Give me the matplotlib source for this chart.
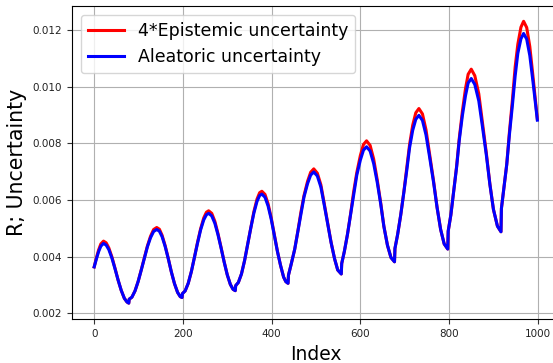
import matplotlib
matplotlib.use('Agg')
import matplotlib.pyplot as plt

# sample index along the run
index = [0, 5, 10, 15, 21, 27, 33, 40, 47, 54, 61, 68, 74, 78,
         79, 85, 92, 99, 106, 113, 120, 127, 134, 141, 147, 153, 160, 167, 174, 181, 188, 194, 198,
         199, 205, 212, 219, 226, 233, 240, 247, 253, 258, 265, 272, 279, 286, 293, 300, 307, 313, 318,
         319, 325, 332, 339, 346, 353, 360, 367, 373, 378, 385, 392, 399, 406, 413, 420, 427, 432, 437,
         438, 444, 452, 459, 466, 473, 481, 488, 495, 503, 511, 518, 526, 534, 542, 549, 557,
         558, 564, 571, 578, 585, 592, 600, 607, 614, 622, 630, 638, 646, 653, 661, 669, 677,
         678, 684, 691, 698, 705, 711, 718, 725, 732, 740, 748, 756, 765, 773, 781, 789, 797,
         798, 804, 810, 817, 823, 830, 837, 843, 850, 858, 867, 875, 884, 892, 900, 909, 917,
         918, 923, 930, 936, 943, 949, 955, 962, 968, 975, 982, 989, 999]

aleatoric = [0.00364, 0.00392, 0.00418, 0.00437, 0.00447, 0.00441, 0.00425, 0.00395, 0.00357, 0.00317,
             0.00281, 0.00253, 0.00240, 0.00236,
             0.00250, 0.00257, 0.00279, 0.00312, 0.00352, 0.00394, 0.00435, 0.00467, 0.00489, 0.00496,
             0.00490, 0.00471, 0.00436, 0.00393, 0.00346, 0.00305, 0.00274, 0.00259, 0.00256,
             0.00270, 0.00279, 0.00306, 0.00347, 0.00397, 0.00448, 0.00495, 0.00530, 0.00548, 0.00553,
             0.00544, 0.00518, 0.00478, 0.00431, 0.00381, 0.00336, 0.00302, 0.00285, 0.00280,
             0.00298, 0.00309, 0.00339, 0.00386, 0.00443, 0.00501, 0.00554, 0.00595, 0.00616, 0.00621,
             0.00610, 0.00579, 0.00533, 0.00476, 0.00419, 0.00370, 0.00328, 0.00312, 0.00306,
             0.00335, 0.00373, 0.00426, 0.00488, 0.00552, 0.00611, 0.00658, 0.00688, 0.00699,
             0.00685, 0.00646, 0.00588, 0.00519, 0.00450, 0.00392, 0.00353, 0.00339,
             0.00376, 0.00419, 0.00479, 0.00549, 0.00621, 0.00688, 0.00741, 0.00776, 0.00788,
             0.00773, 0.00729, 0.00663, 0.00585, 0.00507, 0.00441, 0.00397, 0.00382,
             0.00429, 0.00478, 0.00547, 0.00626, 0.00709, 0.00785, 0.00846, 0.00885, 0.00899,
             0.00881, 0.00830, 0.00753, 0.00663, 0.00573, 0.00496, 0.00445, 0.00427,
             0.00490, 0.00547, 0.00625, 0.00716, 0.00811, 0.00898, 0.00968, 0.01013, 0.01029,
             0.01008, 0.00950, 0.00862, 0.00759, 0.00655, 0.00567, 0.00508, 0.00488,
             0.00570, 0.00635, 0.00725, 0.00830, 0.00938, 0.01038, 0.01118, 0.01169, 0.01188,
             0.01168, 0.01110, 0.01020, 0.00882]

epistemic_x4 = [0.00364, 0.00396, 0.00424, 0.00445, 0.00455, 0.00449, 0.00431, 0.00399, 0.00359, 0.00317,
                0.00281, 0.00253, 0.00240, 0.00236,
                0.00250, 0.00257, 0.00279, 0.00312, 0.00353, 0.00396, 0.00438, 0.00472, 0.00496, 0.00503,
                0.00497, 0.00476, 0.00439, 0.00394, 0.00346, 0.00305, 0.00274, 0.00259, 0.00256,
                0.00270, 0.00279, 0.00306, 0.00347, 0.00398, 0.00451, 0.00499, 0.00537, 0.00557, 0.00562,
                0.00553, 0.00525, 0.00482, 0.00433, 0.00382, 0.00336, 0.00302, 0.00285, 0.00280,
                0.00298, 0.00309, 0.00339, 0.00386, 0.00444, 0.00504, 0.00559, 0.00603, 0.00626, 0.00631,
                0.00620, 0.00587, 0.00538, 0.00478, 0.00420, 0.00370, 0.00328, 0.00312, 0.00306,
                0.00335, 0.00373, 0.00426, 0.00489, 0.00557, 0.00616, 0.00666, 0.00698, 0.00710,
                0.00695, 0.00654, 0.00593, 0.00521, 0.00451, 0.00392, 0.00353, 0.00339,
                0.00376, 0.00419, 0.00479, 0.00551, 0.00630, 0.00697, 0.00757, 0.00796, 0.00809,
                0.00793, 0.00745, 0.00672, 0.00589, 0.00508, 0.00441, 0.00397, 0.00382,
                0.00429, 0.00478, 0.00547, 0.00628, 0.00720, 0.00796, 0.00864, 0.00908, 0.00923,
                0.00904, 0.00848, 0.00764, 0.00668, 0.00574, 0.00496, 0.00445, 0.00427,
                0.00490, 0.00547, 0.00625, 0.00719, 0.00818, 0.00913, 0.00993, 0.01044, 0.01062,
                0.01039, 0.00975, 0.00877, 0.00766, 0.00657, 0.00567, 0.00508, 0.00488,
                0.00570, 0.00635, 0.00726, 0.00839, 0.00957, 0.01070, 0.01150, 0.01210, 0.01231,
                0.01209, 0.01142, 0.01039, 0.00886]

x_ticks = [0, 200, 400, 600, 800, 1000]
y_ticks = [0.002, 0.004, 0.006, 0.008, 0.010, 0.012]

fig = plt.figure(figsize=(5.53, 3.63), dpi=100)
ax = fig.add_axes([0.1302, 0.1204, 0.8816, 0.8631])

ax.plot(index, epistemic_x4, color='red', lw=2.2, label='4*Epistemic uncertainty')
ax.plot(index, aleatoric, color='blue', lw=2.2, label='Aleatoric uncertainty')

ax.set_xlim(-50, 1049)
ax.set_ylim(0.00179, 0.01285)
ax.set_xticks(x_ticks)
ax.set_yticks(y_ticks)
ax.tick_params(labelsize=7.5, colors='#333333', labelcolor='#222222')
ax.grid(True, color='#b0b0b0', lw=0.8)
ax.set_xlabel('Index', fontsize=13.5)
ax.set_ylabel('R; Uncertainty', fontsize=14.8, labelpad=4)
ax.legend(loc='upper left', fontsize=12.5, handlelength=2.1)

plt.savefig('out.png', dpi=100)
